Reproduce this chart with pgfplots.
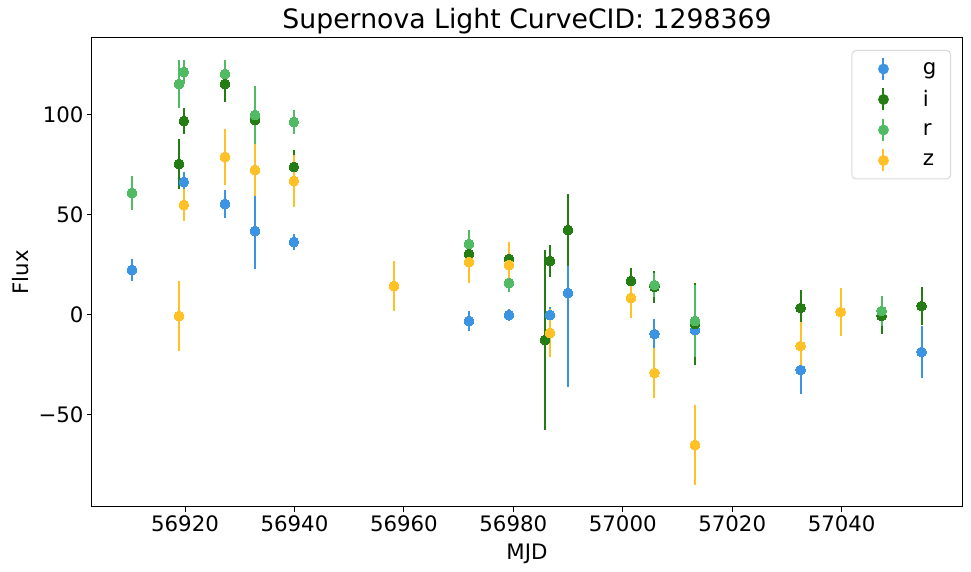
\documentclass[border=0pt]{standalone}
\usepackage{fontspec}
\setmainfont{DejaVu Sans}
\usepackage{pgfplots}
\usepackage{pgfplotstable}
\pgfplotsset{compat=1.18}

\definecolor{bandg}{RGB}{58,147,227}
\definecolor{bandi}{RGB}{36,125,18}
\definecolor{bandr}{RGB}{80,187,99}
\definecolor{bandz}{RGB}{255,193,37}

% MJD, flux, flux error for each band
\pgfplotstableread{
x y e
56910.3 22.5 5.5
56919.8 66.5 5
56927.3 55.5 7
56932.8 42 19
56939.9 36.5 4
56971.9 -3 5
56979.2 0 3
56986.7 0 4
56990.0 11 47
57005.8 -9.5 7.5
57013.2 -7.5 7
57032.5 -27.5 12
57054.6 -18.5 13
}\tg
\pgfplotstableread{
x y e
56918.9 75.5 12.5
56919.8 97 6.5
56927.3 115.5 9
56932.8 97.5 8
56939.9 74 8.5
56971.9 30.5 6
56979.2 28 5
56985.8 -12.5 45
56986.7 27 8
56990.0 42.5 18
57001.5 17 6.5
57005.8 14 8
57013.2 -4.5 20.5
57032.5 3.5 9
57047.3 -0.5 9
57054.6 4.5 9.5
}\ti
\pgfplotstableread{
x y e
56910.3 61 8.5
56918.9 115.5 12
56919.8 121.5 6
56927.3 120.5 7
56932.8 100 14.5
56939.9 96.5 6
56971.9 35.5 7
56979.2 16 4.3
57005.8 15 6
57013.2 -3 18
57047.3 2 7.5
}\tr
\pgfplotstableread{
x y e
56918.9 -0.5 17.5
56919.8 55 8
56927.3 79 14
56932.8 72.5 13
56939.9 67 13
56958.2 14.5 12.7
56971.9 26.5 10.5
56979.2 25 11.5
56986.7 -9 12
57001.5 8.5 10
57005.8 -29 12.5
57013.2 -65 20
57032.5 -15.5 12
57039.8 1.5 12.2
}\tz

\pgfplotsset{
  % vertical error bars only, drawn beneath the markers
  bandbars/.style={
    only marks, mark=none, color=#1, forget plot,
    error bars/.cd, y dir=both, y explicit, error mark=none,
    error bar style={line width=2pt, color=#1},
  },
  bandmarks/.style={
    only marks, mark=*, color=#1,
    mark options={solid, fill=#1, draw=#1, line width=0pt},
    mark size=4.9pt,
  },
}

\begin{document}
\begin{tikzpicture}
\useasboundingbox (-92pt,-65pt) rectangle (879pt,507pt);
\begin{axis}[
  at={(0pt,0pt)}, anchor=south west,
  scale only axis, width=870pt, height=469pt,
  xmin=56903, xmax=57062, ymin=-96, ymax=138.5,
  scaled x ticks=false, scaled y ticks=false,
  axis line style={line width=1pt},
  tick align=outside, major tick length=5pt,
  every tick/.style={black, line width=1pt},
  xtick pos=bottom, ytick pos=left,
  xtick={56920,56940,56960,56980,57000,57020,57040},
  xticklabels={56920,56940,56960,56980,57000,57020,57040},
  ytick={-50,0,50,100},
  yticklabels={−50,0,50,100},
  tick label style={font=\fontsize{21.3}{25}\selectfont},
  xlabel={MJD}, ylabel={Flux},
  label style={font=\fontsize{21.3}{25}\selectfont},
  xlabel style={at={(axis description cs:0.5,0)}, anchor=north, yshift=-33pt},
  ylabel style={at={(axis description cs:0,0.5)}, anchor=south, rotate=0, yshift=60pt},
  title={Supernova Light CurveCID: 1298369},
  title style={font=\fontsize{26.7}{31}\selectfont, at={(axis description cs:0.5,1)}, anchor=base, yshift=3pt},
  legend cell align=left,
  legend style={
    at={(axis description cs:1,1)}, anchor=north east,
    xshift=-11pt, yshift=-12pt,
    draw=black!15, line width=1pt, rounded corners=4pt,
    font=\fontsize{21.3}{25}\selectfont,
    inner xsep=12pt, inner ysep=6.5pt, row sep=6.5pt,
  },
  legend image code/.code={
    \path (-19pt,0pt) (37pt,0pt);
    \draw[line width=2pt, solid] (0pt,-11pt) -- (0pt,11pt);
    \fill (0pt,0pt) circle (4.9pt);
  },
]
\addplot[bandbars=bandg] table[x=x, y=y, y error=e] {\tg};
\addplot[bandmarks=bandg] table[x=x, y=y] {\tg};
\addlegendentry{g}
\addplot[bandbars=bandi] table[x=x, y=y, y error=e] {\ti};
\addplot[bandmarks=bandi] table[x=x, y=y] {\ti};
\addlegendentry{i}
\addplot[bandbars=bandr] table[x=x, y=y, y error=e] {\tr};
\addplot[bandmarks=bandr] table[x=x, y=y] {\tr};
\addlegendentry{r}
\addplot[bandbars=bandz] table[x=x, y=y, y error=e] {\tz};
\addplot[bandmarks=bandz] table[x=x, y=y] {\tz};
\addlegendentry{z}
\end{axis}
\end{tikzpicture}
\end{document}
